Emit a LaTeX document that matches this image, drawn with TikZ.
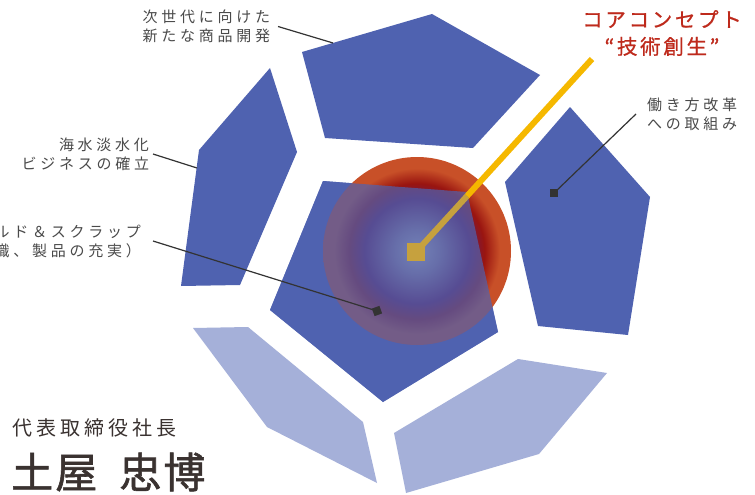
\documentclass[tikz,border=0pt]{standalone}
\usepackage{fontspec}
\setmainfont{Noto Sans CJK JP}
\newfontfamily\labelfont[LetterSpace=25]{Noto Sans CJK JP}
\newfontfamily\headfont[LetterSpace=13,FakeBold=0.8]{Noto Sans CJK JP}
\newfontfamily\postfont[LetterSpace=20]{Noto Sans CJK JP}
\newfontfamily\namefont[LetterSpace=5,FakeBold=1.4]{Noto Sans CJK JP}
\usetikzlibrary{calc}

\definecolor{petal}{HTML}{4F62B0}
\definecolor{petallight}{HTML}{A5B0D9}
\definecolor{leader}{HTML}{333333}
\definecolor{labelgray}{HTML}{4A4A4A}
\definecolor{corered}{HTML}{BE2A1C}
\definecolor{coreyellow}{HTML}{F5B800}
\definecolor{coregold}{HTML}{C6A13E}
\definecolor{namebrown}{HTML}{3A3230}
\definecolor{sphlight}{HTML}{C8CDC8}
\definecolor{sphmid}{HTML}{A08C9C}
\definecolor{sphpurple}{HTML}{6A1A50}
\definecolor{sphred}{HTML}{9A1510}
\definecolor{sphorange}{HTML}{C85028}

\pgfdeclareradialshading{coresphere}{\pgfpoint{0bp}{0bp}}{color(0bp)=(sphlight); color(6bp)=(sphmid); color(14bp)=(sphpurple); color(18bp)=(sphred); color(22bp)=(sphorange); color(25bp)=(sphorange); color(50bp)=(sphorange)}

\begin{document}
\begin{tikzpicture}[x=1pt,y=-1pt,
	lbl/.style={inner sep=0pt, outer sep=0pt, text=labelgray, font=\labelfont\fontsize{15}{19}\selectfont},
	leaderline/.style={draw=leader, line width=1.2pt},
	tip/.style={fill=leader, minimum size=8pt, inner sep=0pt}]
	\useasboundingbox (0,0) rectangle (755,495);
	\fill[white] (0,0) rectangle (755,495);

	% outer petals
	\fill[petal] (302,52) -- (432,14) -- (540,75) -- (473,148) -- (325,138) -- cycle;
	\fill[petal] (270,68) -- (297,152) -- (240,285) -- (181,286) -- (199,150) -- cycle;
	\fill[petal] (570,107) -- (650,197) -- (628,335) -- (538,326) -- (505,182) -- cycle;
	\fill[petallight] (518,359) -- (607,373) -- (539,454) -- (406,493) -- (394,433) -- cycle;
	\fill[petallight] (193,328) -- (248,327) -- (363,422) -- (377,483) -- (267,427) -- cycle;

	% core: pentagon over sphere
	\fill[petal] (323,181) -- (467,192) -- (498,332) -- (383,402) -- (270,310) -- cycle;
	\shade[shading=coresphere] (417,251) circle (94);
	\fill[petal, opacity=0.7] (323,181) -- (467,192) -- (498,332) -- (383,402) -- (270,310) -- cycle;

	\coordinate (coretop) at (592,59);
	\node[fill=coregold, minimum size=18pt, inner sep=0pt] (core) at (416,252) {};
	\coordinate (coreedge) at ($(core.center)!0.29!(coretop)$);
	\draw[coregold, line width=6pt] (core.center) -- (coreedge);
	\draw[coreyellow, line width=6pt] (coreedge) -- (coretop);
	\node[fill=coregold, minimum size=18pt, inner sep=0pt] at (core) {};

	\node[corered, align=center, font=\headfont\fontsize{20.5}{27}\selectfont] (concept) at (662,33) {コアコンセプト\\“技術創生”};

	% labels and leaders
	\node[lbl, anchor=east, align=right] (nextgen) at (270,26.5) {次世代に向けた\\新たな商品開発};
	\coordinate (nextgenpt) at (333,43);
	\draw[leaderline] ([xshift=8pt]nextgen.east) -- (nextgenpt);

	\node[lbl, anchor=east, align=right] (water) at (149,154) {海水淡水化\\ビジネスの確立};
	\coordinate (waterpt) at (197,168);
	\draw[leaderline] ([xshift=4pt]water.east) -- (waterpt);

	\node[lbl, anchor=west, align=left] (workstyle) at (647,114) {働き方改革\\への取組み};
	\node[tip] (workpt) at (554,193) {};
	\draw[leaderline] ([xshift=-11pt]workstyle.west) -- (workpt.center);

	\node[lbl, anchor=east, align=right] (build) at (141,241) {ビルド＆スクラップ\\（組織、製品の充実）};
	\node[tip, rotate=20] (buildpt) at (377,311) {};
	\draw[leaderline] ([xshift=12pt]build.east) -- (buildpt.center);

	% president
	\node[anchor=west, inner sep=0pt, text=namebrown, font=\postfont\fontsize{20}{24}\selectfont] (post) at (12,428) {代表取締役社長};
	\node[anchor=west, inner sep=0pt, text=namebrown, font=\namefont\fontsize{42}{48}\selectfont] (name) at (11,472) {土屋\hspace{22pt}忠博};
\end{tikzpicture}
\end{document}
